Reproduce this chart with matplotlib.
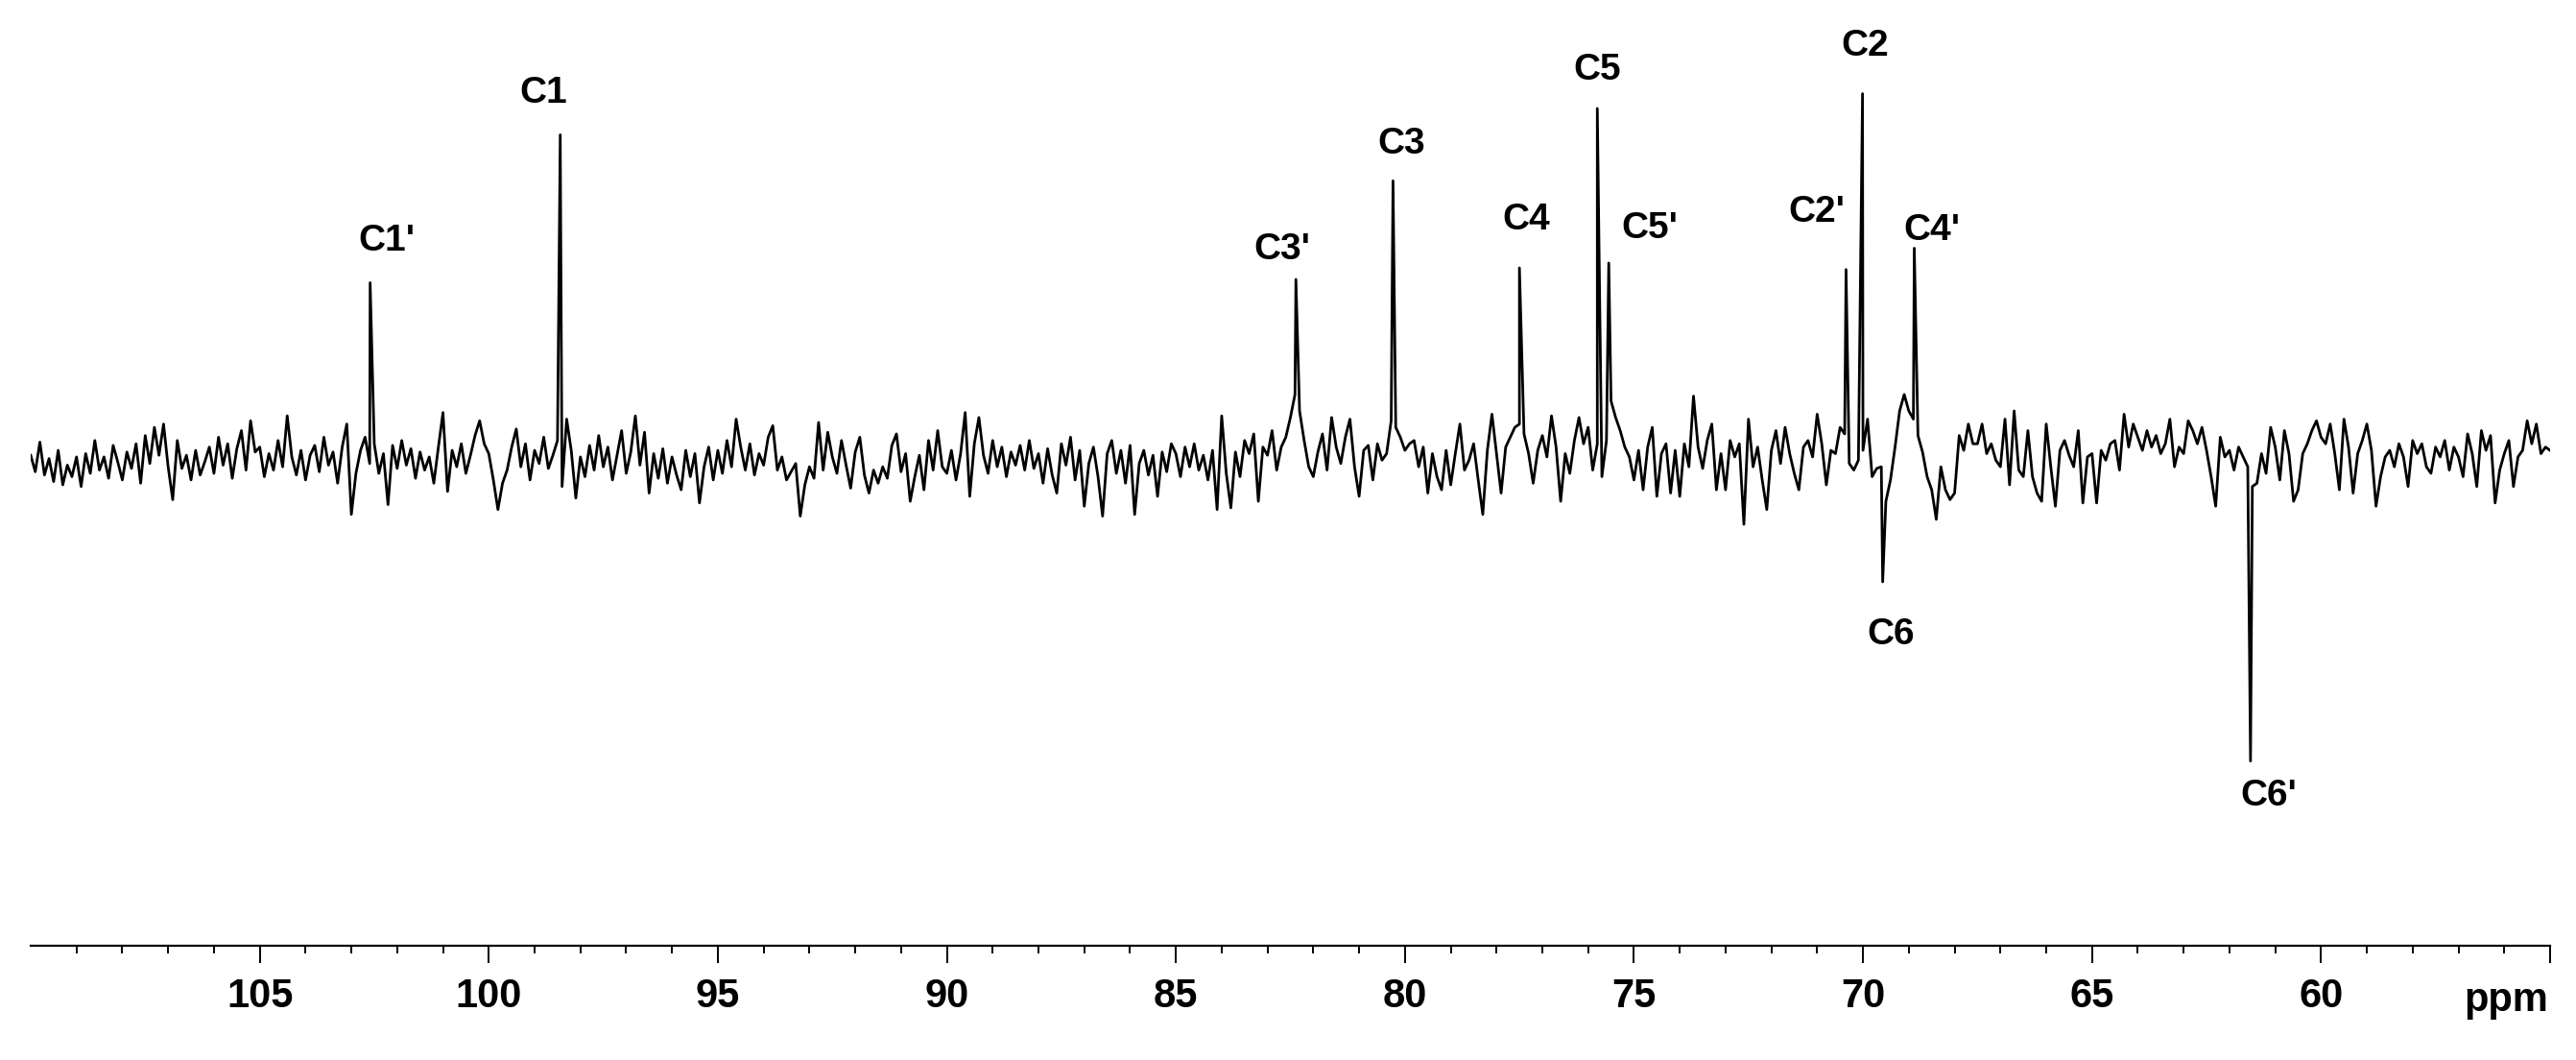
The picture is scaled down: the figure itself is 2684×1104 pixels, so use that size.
import numpy as np
import matplotlib.pyplot as plt

plt.rcParams['font.family'] = ['Liberation Sans', 'DejaVu Sans']

# ---------------------------------------------
# baseline trace, 0.1 ppm steps (110.0 -> 55.0)
# intensity in arbitrary units (baseline = 0)
# ---------------------------------------------
noise_110_105 = [3, -7, 11, -9, 1, -13, 6, -15, -3, -10, 2, -16, 4, -8, 12, -6, 2, -11, 9, -1,
                 -12, 5, -5, 10, -14, 15, -2, 20, 3, 22, -4, -24, 12, -5, 3, -12, 6, -9, -1, 8,
                 -8, 14, -3, 10, -11, 7, 18, -6, 24, 5]
noise_105_100 = [8, -10, 4, -6, 12, -4, 27, 2, -9, 6, -12, 3, 9, -7, 14, -3, 5, -14, 8, 22,
                 -33, -8, 6, 14, -2, 10, -8, 4, -27, 9, -5, 12, -3, 7, -11, 5, -6, 2, -14, 8,
                 29, -19, 6, -4, 10, -8, 3, 15, 24, 10]
noise_100_95 = [4, -12, -30, -14, -6, 8, 19, -4, 10, -12, 6, -2, 14, -5, 3, 12, -16, 25, 6, -23,
                2, -10, 9, -6, 15, -4, 8, -12, 3, 18, -8, 5, 27, -3, 17, -20, 4, -11, 7, -14,
                2, -9, -18, 6, -10, 4, -26, -4, 8, -12]
noise_95_90 = [6, -8, 12, -4, 25, 8, -6, 10, -9, 4, -3, 14, 21, -6, 2, -12, -7, -2, -34, -15,
               -4, -11, 23, -6, 17, 2, -8, 12, -3, -17, 5, 14, -9, -20, -6, -14, -4, -11, 9, 16,
               -7, 4, -25, -10, 3, -18, 12, -6, 18, -4]
noise_90_85 = [-8, 6, -12, 4, 29, -22, 10, 26, 3, -8, 12, -4, 8, -10, 5, -3, 9, -6, 12, -5,
               4, -14, 7, -9, -20, 10, -3, 14, -12, 6, -28, -2, 8, -10, -34, 4, 12, -8, 6, -14,
               9, -33, -2, 6, -9, 3, -22, 5, -7, 10]
noise_85_80 = [4, -10, 8, -4, 10, -6, 3, -12, 6, -30, 27, -8, -29, 5, -10, 12, 4, 16, -25, 8,
               3, 18, -6, 8, 14, 26, 40, 30, 12, -4, -10, 5, 16, -6, 26, 8, -2, 14, 25, -4,
               -22, 6, 9, -12, 10, 0, 4, 24, 20, 14]
noise_80_75 = [6, 10, 12, -4, 8, -20, 4, -10, -18, 6, -15, 4, 22, -6, 0, 10, -12, -33, 6, 28,
               4, -20, 8, 14, 20, 22, 16, 4, -14, 6, 15, 2, 27, 8, -25, 4, -8, 12, 26, 10,
               20, -6, 10, -10, 12, 36, 26, 18, 8, 2]
noise_75_70 = [-12, 6, -18, 8, 20, -22, 4, 10, -20, 6, -22, 10, -4, 39, 8, -5, 12, 22, -18, 4,
               -18, 12, 2, 10, -39, 25, -4, 8, -12, -30, 6, 18, -2, 20, 4, -8, -18, 8, 12, 2,
               28, 10, -15, 6, 4, 20, 16, -2, -6, 0]
noise_70_65 = [6, 25, -10, -5, -4, -25, -12, 8, 30, 40, 30, 25, 15, 5, -10, -18, -36, -4, -18, -24,
               -20, 15, 6, 22, 10, 10, 22, 4, 10, 0, -4, 25, -15, 30, -6, -10, 18, -10, -20, -25,
               22, -4, -28, 6, 12, 3, -4, 18, -26, 2]
noise_65_60 = [4, -26, 6, 0, 10, 12, -6, 28, 8, 22, 14, 6, 18, 8, 15, 4, 10, 25, -4, 8,
               4, 24, 18, 10, 20, 6, -10, -28, 14, 2, 6, -6, 8, 2, -4, -16, -14, 4, -8, 20,
               8, -12, 18, 4, -25, -18, 4, 10, 18, 24]
noise_60_55 = [14, 10, 22, 4, -18, 25, 8, -20, 4, 12, 22, 6, -28, -10, 2, 6, -4, 10, 2, -16,
               12, 4, 10, -4, -8, 8, 2, 12, -6, 8, 2, -10, 16, 4, -16, 18, 6, 15, -26, -6,
               4, 12, -16, 2, 6, 24, 10, 22, 4, 8, 6]

# assigned carbon signals
peak_labels = ["C1'", "C1", "C3'", "C3", "C4", "C5", "C5'", "C2'", "C2", "C4'", "C6", "C6'"]
peak_shifts = [102.59, 98.44, 82.38, 80.26, 77.50, 75.80, 75.55, 70.37, 70.01, 68.88, 69.57, 61.54]
peak_heights = [108, 198, 110, 170, 117, 214, 120, 116, 223, 129, -74, -183]

# label placement (pixel offsets from the peak tip)
label_offsets = [(17, 43), (-17, 43), (-14, 31), (9, 38), (7, 50), (0, 40),
                 (43, 36), (-31, 60), (3, 50), (18, 18), (9, -55), (19, -36)]

# ---------------------------------------------
# build trace
# ---------------------------------------------
noise = np.concatenate([noise_110_105, noise_105_100, noise_100_95, noise_95_90,
                        noise_90_85, noise_85_80, noise_80_75, noise_75_70,
                        noise_70_65, noise_65_60, noise_60_55]).astype(float)
ppm = np.linspace(110.0, 55.0, len(noise))

x = np.concatenate([ppm, peak_shifts])
y = np.concatenate([noise, peak_heights])
order = np.argsort(-x, kind='stable')

# ---------------------------------------------
# plot
# ---------------------------------------------
W, H = 2684, 1104
fig = plt.figure(figsize=(W / 100, H / 100), dpi=100)
ax = fig.add_axes([32 / W, 119 / H, (2657 - 32) / W, 1 - 119 / H])

ax.plot(x[order], y[order], color='black', lw=2.0)

for lab, sx, h, (dx, dy) in zip(peak_labels, peak_shifts, peak_heights, label_offsets):
    ax.annotate(lab, (sx, h), xytext=(dx, dy), textcoords='offset pixels',
                ha='center', va='center', fontsize=28, fontweight='bold')

ax.set_xlim(110, 55)
ax.set_ylim(-295.4, 280)
for s in ['left', 'right', 'top']:
    ax.spines[s].set_visible(False)
ax.spines['bottom'].set_linewidth(1.6)
ax.set_yticks([])

major = np.arange(105, 54, -5)
ax.set_xticks(major)
ax.set_xticklabels([str(v) if v > 55 else '' for v in major])
ax.set_xticks(np.arange(109, 55, -1), minor=True)
ax.tick_params(axis='x', which='major', length=13, width=1.4, pad=11, labelsize=30)
ax.tick_params(axis='x', which='minor', length=6, width=1.4)
for lbl in ax.get_xticklabels():
    lbl.set_fontweight('bold')

ax.text(55.95, -0.069, 'ppm', transform=ax.get_xaxis_transform(),
        ha='center', va='baseline', fontsize=30, fontweight='bold')

fig.savefig('out.png', dpi=100)
